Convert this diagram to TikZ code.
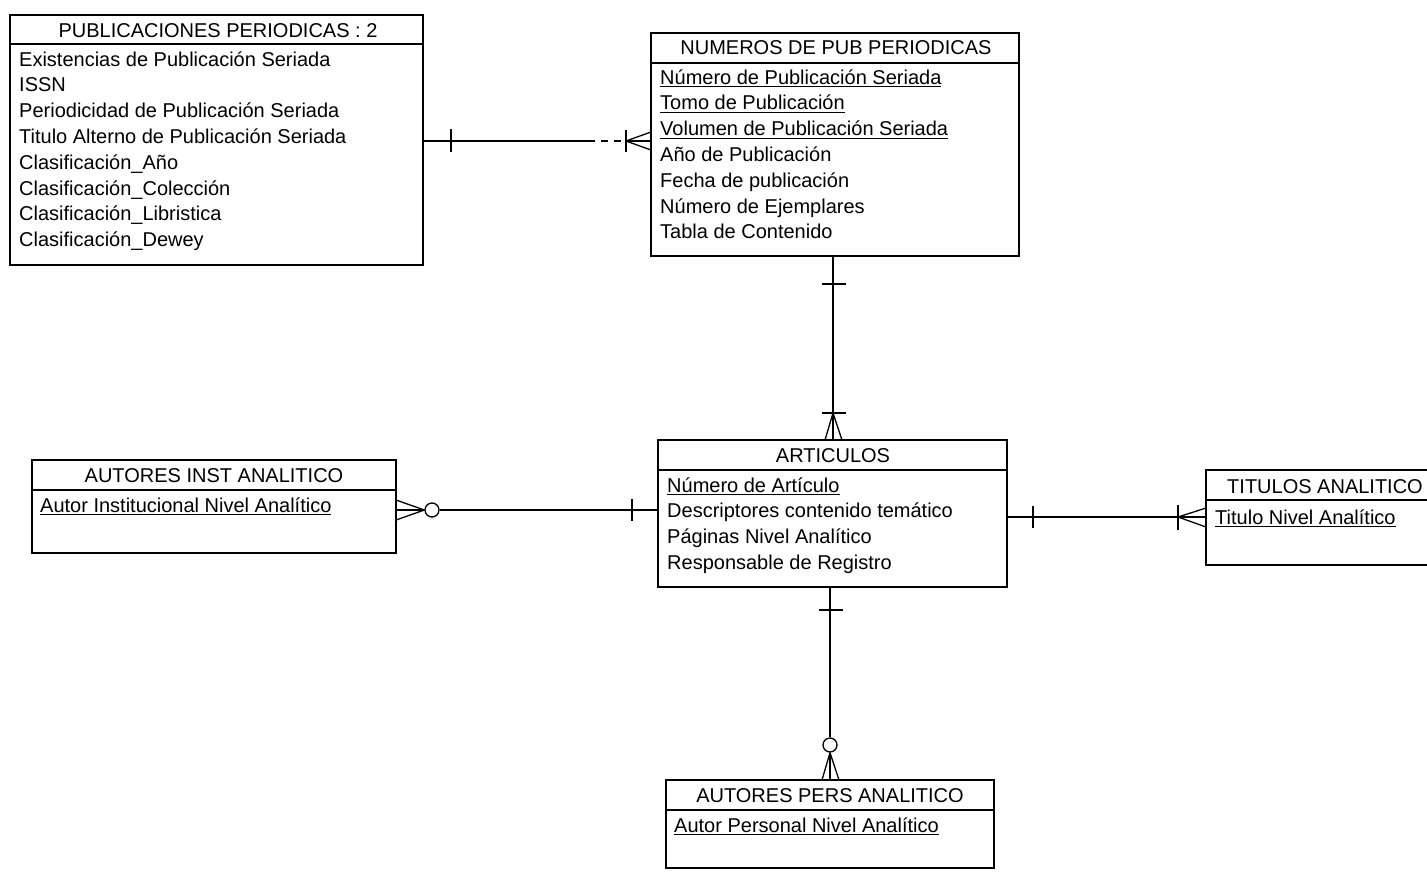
\documentclass[tikz,border=0pt]{standalone}
\usepackage{fontspec}
\setmainfont{Liberation Sans}
\newcommand{\uln}[1]{\setbox0\hbox{#1}\rlap{\rule[-3pt]{\wd0}{1pt}}\box0}
\tikzset{
  ent/.style={draw, line width=1.3pt, inner sep=0pt, outer sep=0pt, anchor=north west},
  ttl/.style={font=\fontsize{20}{24}\selectfont, anchor=base, inner sep=0pt},
  row/.style={font=\fontsize{20}{24}\selectfont, anchor=base west, inner sep=0pt},
  rel/.style={line width=1.3pt},
}
\begin{document}
\begin{tikzpicture}[x=1pt,y=-1pt]
\useasboundingbox (0,0) rectangle (1427,871);
\clip (0,0) rectangle (1427,871);
\fill[white] (0,0) rectangle (1427,871);

% ---------- entities ----------
\node[ent, minimum width=413pt, minimum height=250pt] (pub) at (10,15) {};
\draw[line width=1.3pt] ([yshift=-29pt]pub.north west) -- ([yshift=-29pt]pub.north east);
\node[ttl] (pubt) at (218,37) {PUBLICACIONES PERIODICAS : 2};
\foreach \t [count=\i from 0] in {Existencias de Publicación Seriada, ISSN, Periodicidad de Publicación Seriada, Titulo Alterno de Publicación Seriada, Clasificación\_Año, Clasificación\_Colección, Clasificación\_Libristica, Clasificación\_Dewey}
  \node[row] (pubr\i) at (19,66+25.8*\i) {\t};

\node[ent, minimum width=368pt, minimum height=223pt] (num) at (651,33) {};
\draw[line width=1.3pt] ([yshift=-30pt]num.north west) -- ([yshift=-30pt]num.north east);
\node[ttl] (numt) at (836,54) {NUMEROS DE PUB PERIODICAS};
\node[row] (numr0) at (660,84) {\uln{Número de Publicación Seriada}};
\node[row] (numr1) at (660,109.8) {\uln{Tomo de Publicación}};
\node[row] (numr2) at (660,135.6) {\uln{Volumen de Publicación Seriada}};
\node[row] (numr3) at (660,161.4) {Año de Publicación};
\node[row] (numr4) at (660,187.2) {Fecha de publicación};
\node[row] (numr5) at (660,213) {Número de Ejemplares};
\node[row] (numr6) at (660,238.8) {Tabla de Contenido};

\node[ent, minimum width=349pt, minimum height=147pt] (art) at (658,440) {};
\draw[line width=1.3pt] ([yshift=-30pt]art.north west) -- ([yshift=-30pt]art.north east);
\node[ttl] (artt) at (833,462) {ARTICULOS};
\node[row] (artr0) at (667,492) {\uln{Número de Artículo}};
\node[row] (artr1) at (667,517.8) {Descriptores contenido temático};
\node[row] (artr2) at (667,543.6) {Páginas Nivel Analítico};
\node[row] (artr3) at (667,569.4) {Responsable de Registro};

\node[ent, minimum width=364pt, minimum height=93pt] (ainst) at (32,460) {};
\draw[line width=1.3pt] ([yshift=-30pt]ainst.north west) -- ([yshift=-30pt]ainst.north east);
\node[ttl] (ainstt) at (214,482) {AUTORES INST ANALITICO};
\node[row] (ainstr0) at (40,512) {\uln{Autor Institucional Nivel Analítico}};

\node[ent, minimum width=240pt, minimum height=95pt] (tit) at (1206,470) {};
\draw[line width=1.3pt] ([yshift=-30pt]tit.north west) -- ([yshift=-30pt]tit.north east);
\node[ttl] (titt) at (1325,493) {TITULOS ANALITICO};
\node[row] (titr0) at (1215,524) {\uln{Titulo Nivel Analítico}};

\node[ent, minimum width=328pt, minimum height=88pt] (apers) at (666,780) {};
\draw[line width=1.3pt] ([yshift=-30pt]apers.north west) -- ([yshift=-30pt]apers.north east);
\node[ttl] (aperst) at (830,802) {AUTORES PERS ANALITICO};
\node[row] (apersr0) at (674,832) {\uln{Autor Personal Nivel Analítico}};

% ---------- relationship PUB -> NUMEROS ----------
\coordinate (yA) at (0,141);
\coordinate (mA) at (588,141);
\coordinate (fA) at (626,141);
\draw[rel] (pub.east |- yA) -- (mA);
\draw[rel, dash pattern=on 7pt off 6pt] (mA) -- (fA);
\draw[rel] (451,129) -- (451,152);
\draw[rel] (626,130) -- (626,152);
\draw[rel] (fA) -- (num.west |- yA);
\draw[rel] (fA) -- (651,132);
\draw[rel] (fA) -- (651,150);

% ---------- relationship NUMEROS -> ARTICULOS ----------
\coordinate (xB) at (833,0);
\coordinate (fB) at (833,413);
\draw[rel] (num.south -| xB) -- (art.north -| xB);
\draw[rel] (822,284) -- (846,284);
\draw[rel] (822,413) -- (846,413);
\draw[rel] (fB) -- (825,440);
\draw[rel] (fB) -- (842,440);

% ---------- relationship ARTICULOS -> AUTORES INST ----------
\coordinate (yC) at (0,510);
\node[draw, circle, line width=1.3pt, minimum size=14pt, inner sep=0pt] (oC) at (432,510) {};
\draw[rel] (art.west |- yC) -- (oC.east);
\draw[rel] (632,499) -- (632,521);
\draw[rel] (oC.west) -- (ainst.east |- yC);
\draw[rel] (oC.west) -- (396,500);
\draw[rel] (oC.west) -- (396,520);

% ---------- relationship ARTICULOS -> TITULOS ----------
\coordinate (yD) at (0,517);
\coordinate (fD) at (1178,517);
\draw[rel] (art.east |- yD) -- (tit.west |- yD);
\draw[rel] (1033,506) -- (1033,528);
\draw[rel] (1178,505) -- (1178,530);
\draw[rel] (fD) -- (1206,508);
\draw[rel] (fD) -- (1206,527);

% ---------- relationship ARTICULOS -> AUTORES PERS ----------
\coordinate (xE) at (830,0);
\node[draw, circle, line width=1.3pt, minimum size=14pt, inner sep=0pt] (oE) at (830,745) {};
\draw[rel] (art.south -| xE) -- (oE.north);
\draw[rel] (819,610) -- (843,610);
\draw[rel] (oE.south) -- (apers.north -| xE);
\draw[rel] (oE.south) -- (822,780);
\draw[rel] (oE.south) -- (839,780);
\end{tikzpicture}
\end{document}
